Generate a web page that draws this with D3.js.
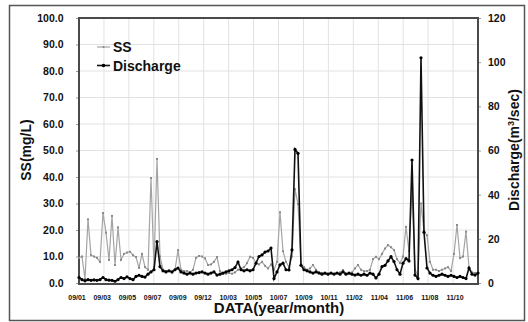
<!DOCTYPE html>
<html>
<head>
<meta charset="utf-8">
<script src="https://cdn.jsdelivr.net/npm/d3@7"></script>
<style>
  body { margin: 0; background: #fff; }
  svg { display: block; }
  text { font-family: "Liberation Sans", Arial, sans-serif; font-weight: bold; fill: #111; }
</style>
</head>
<body>
<svg id="chart" width="528" height="322"></svg>
<script>
// Month labels shown under the time axis (year/month)
const monthLabels = ["09/01", "09/03", "09/05", "09/07", "09/09", "09/12", "10/03", "10/05",
                     "10/07", "10/09", "10/11", "11/02", "11/04", "11/06", "11/08", "11/10"];

// Suspended solids, mg/L (left axis)
const ssValues = [
  9.5, 10, 1.5, 24, 10.5, 10, 9.5, 8, 26.4, 19,
  8.7, 25.3, 6.8, 21, 8.7, 11, 11.5, 11.8, 10.5, 9.8,
  5.7, 11, 6, 5, 39.6, 6, 46.8, 10, 5, 4.5,
  4.5, 4, 5, 12.4, 5, 4.5, 4.5, 4, 5, 9.5,
  10.2, 10, 9.3, 6.8, 7, 8, 9.8, 4.5, 3.5, 3.5,
  3.8, 3.5, 4, 5, 5.5, 6, 7.5, 9.9, 9.5, 7.5,
  7, 8, 6.5, 5.5, 7, 5, 8, 26.7, 12, 8,
  6, 10, 35.4, 29.8, 7, 6, 5, 5.5, 6.8, 5,
  4, 3.8, 3.5, 3.5, 3.8, 3.5, 3.8, 4, 4.9, 3.5,
  3.5, 4, 5.5, 6.8, 5, 4.5, 4.5, 5, 9, 9.9,
  9, 11, 13, 14.3, 13.5, 12.4, 9, 7.5, 10, 21.2,
  12, 35.8, 5, 3, 30, 19.4, 18, 8, 5, 5,
  4.5, 5, 5.5, 6, 4.5, 11, 21.9, 9.4, 10, 19.4,
  6, 4, 3.8, 3.8
];

// Discharge, m3/sec (right axis)
const dischargeValues = [
  2.5, 1.5, 1, 1.5, 1.2, 1.4, 1.2, 1.5, 2.5, 1.5,
  1.3, 1.2, 0.8, 1.5, 2.5, 2, 2.8, 2, 1.5, 3,
  3.5, 3, 2.7, 4, 5, 6, 18.7, 7.4, 5.5, 5,
  5.5, 5, 6, 6.8, 5, 4.5, 4, 4.5, 4, 4.5,
  4.7, 5, 4.5, 4, 4.5, 5, 3.6, 4, 4.5, 5,
  5.5, 6, 7, 9.5, 6, 5.5, 6, 5.5, 6, 9,
  12, 12.7, 14, 14.5, 15.8, 2, 5, 8.2, 9, 6,
  5.9, 15, 60.5, 58.7, 8, 6, 5.5, 5, 4.5, 5,
  4.5, 4, 4.5, 4, 4.5, 4, 4.5, 4, 5, 4,
  4.5, 4, 3.6, 4, 3.5, 4, 3.5, 4.5, 4, 2.3,
  4, 7.4, 8, 10, 11.9, 9.7, 6, 4, 9, 11,
  10, 55.7, 3.6, 2, 102, 23, 6.8, 4.5, 3.5, 3,
  3.5, 4, 3.5, 3, 3.5, 3, 2.5, 3, 2.5, 2,
  6.8, 4, 3.6, 4.5
];

const leftTicks = [0, 10, 20, 30, 40, 50, 60, 70, 80, 90, 100];
const rightTicks = [0, 20, 40, 60, 80, 100, 120];

const svg = d3.select("#chart");
const plot = { left: 79, right: 478, top: 18, bottom: 283 };

// Outer frame
svg.append("rect")
  .attr("x", 9.5).attr("y", 5.5).attr("width", 515).attr("height", 315)
  .attr("fill", "#fff").attr("stroke", "#555").attr("stroke-width", 1.5);

const x = d3.scaleLinear().domain([0, ssValues.length - 1]).range([plot.left, plot.right]);
const gridX = d3.scaleLinear().domain([0, 16]).range([plot.left, plot.right]);
const labelX = d3.scaleLinear().domain([0, monthLabels.length - 1]).range([77, 455]);
const yL = d3.scaleLinear().domain([0, 100]).range([plot.bottom, plot.top]);
const yR = d3.scaleLinear().domain([0, 120]).range([plot.bottom, plot.top]);

// Gridlines
svg.append("g").selectAll("line").data(d3.range(1, 16)).join("line")
  .attr("x1", d => gridX(d)).attr("x2", d => gridX(d))
  .attr("y1", plot.top).attr("y2", plot.bottom)
  .attr("stroke", "#e2e2e2").attr("stroke-width", 1);
svg.append("g").selectAll("line").data(leftTicks.slice(1, -1)).join("line")
  .attr("x1", plot.left).attr("x2", plot.right)
  .attr("y1", d => yL(d)).attr("y2", d => yL(d))
  .attr("stroke", "#e2e2e2").attr("stroke-width", 1);

// Left axis
const axL = svg.append("g").attr("transform", `translate(${plot.left},0)`)
  .call(d3.axisLeft(yL).tickValues(leftTicks).tickFormat(d3.format(".1f")).tickSize(3).tickPadding(12.5));
axL.select(".domain").remove();
axL.selectAll("line").attr("stroke", "#999");
axL.selectAll("text").attr("font-size", 10.5).attr("font-family", null).attr("fill", "#111");

// Right axis
const axR = svg.append("g").attr("transform", `translate(${plot.right},0)`)
  .call(d3.axisRight(yR).tickValues(rightTicks).tickSize(3).tickPadding(7));
axR.select(".domain").remove();
axR.selectAll("line").attr("stroke", "#999");
axR.selectAll("text").attr("font-size", 10.5).attr("font-family", null).attr("fill", "#111");

// Month labels
svg.append("g").selectAll("text").data(monthLabels).join("text")
  .attr("x", (d, i) => labelX(i)).attr("y", 299.5)
  .attr("text-anchor", "middle").attr("font-size", 7)
  .text(d => d);

// Plot frame
svg.append("rect")
  .attr("x", plot.left).attr("y", plot.top)
  .attr("width", plot.right - plot.left).attr("height", plot.bottom - plot.top + 1)
  .attr("fill", "none").attr("stroke", "#4a4a4a").attr("stroke-width", 2);

// SS series
const ssLine = d3.line().x((d, i) => x(i)).y(d => yL(d));
svg.append("path").datum(ssValues)
  .attr("d", ssLine).attr("fill", "none").attr("stroke", "#a4a4a4").attr("stroke-width", 1.2);
svg.append("g").selectAll("rect").data(ssValues).join("rect")
  .attr("x", (d, i) => x(i) - 1).attr("y", d => yL(d) - 1)
  .attr("width", 2).attr("height", 2).attr("fill", "#8a8a8a");

// Discharge series
const qLine = d3.line().x((d, i) => x(i)).y(d => yR(d));
svg.append("path").datum(dischargeValues)
  .attr("d", qLine).attr("fill", "none").attr("stroke", "#111").attr("stroke-width", 1.6);
svg.append("g").selectAll("circle").data(dischargeValues).join("circle")
  .attr("cx", (d, i) => x(i)).attr("cy", d => yR(d)).attr("r", 1.6).attr("fill", "#000");

// Legend
const legend = [
  { name: "SS", y: 47, color: "#a4a4a4", dark: false },
  { name: "Discharge", y: 65.5, color: "#111", dark: true }
];
const lg = svg.append("g").selectAll("g").data(legend).join("g");
lg.append("line").attr("x1", 97).attr("x2", 110).attr("y1", d => d.y).attr("y2", d => d.y)
  .attr("stroke", d => d.color).attr("stroke-width", d => d.dark ? 1.6 : 1.2);
lg.append("circle").attr("cx", 103.5).attr("cy", d => d.y).attr("r", d => d.dark ? 1.8 : 1.1)
  .attr("fill", d => d.dark ? "#000" : "#8a8a8a");
lg.append("text").attr("x", 113).attr("y", d => d.y + 5).attr("font-size", 14).text(d => d.name);

// Axis titles
svg.append("text").attr("transform", "translate(31,150) rotate(-90)")
  .attr("text-anchor", "middle").attr("font-size", 14).text("SS(mg/L)");
const rt = svg.append("text").attr("transform", "translate(519,150) rotate(-90)")
  .attr("text-anchor", "middle").attr("font-size", 14);
rt.append("tspan").text("Discharge(m");
rt.append("tspan").attr("dy", -5).attr("font-size", 9).text("3");
rt.append("tspan").attr("dy", 5).text("/sec)");
svg.append("text").attr("x", 279).attr("y", 313).attr("text-anchor", "middle")
  .attr("font-size", 15).text("DATA(year/month)");
</script>
</body>
</html>
